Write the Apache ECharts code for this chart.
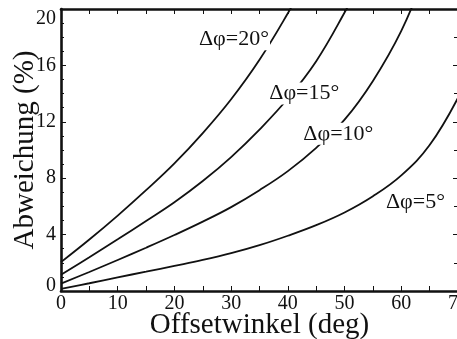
<!DOCTYPE html>
<html>
<head>
<meta charset="utf-8">
<script src="https://cdn.jsdelivr.net/npm/echarts@6/dist/echarts.min.js"></script>
<style>
  html, body { margin: 0; padding: 0; background: #fff; }
  #chart { width: 457px; height: 339px; }
</style>
</head>
<body>
<div id="chart"></div>
<script>
// Offset angle (deg) and deviation (%) for each angular spread Δφ
const angles20 = [0, 5, 10, 15, 20, 25, 30, 35, 40, 42];
const dev20    = [2.05, 3.65, 5.35, 7.15, 9.05, 11.2, 13.6, 16.4, 19.7, 21.2];

const angles15 = [0, 5, 10, 15, 20, 25, 30, 35, 40, 45, 50, 52];
const dev15    = [1.15, 2.4, 3.67, 4.97, 6.3, 7.8, 9.5, 11.45, 13.65, 16.3, 19.75, 21.35];

const angles10 = [0, 5, 10, 15, 20, 25, 30, 35, 40, 45, 50, 55, 60, 64];
const dev10    = [0.52, 1.35, 2.2, 3.07, 3.97, 4.92, 5.95, 7.15, 8.5, 10.15, 12.15, 14.9, 18.45, 22.3];

const angles5  = [0, 5, 10, 15, 20, 25, 30, 35, 40, 45, 50, 55, 60, 65, 70];
const dev5     = [0.15, 0.55, 0.97, 1.37, 1.78, 2.2, 2.68, 3.25, 3.92, 4.67, 5.57, 6.72, 8.2, 10.35, 13.7];

// Curve annotations: text and anchor in data units (offset angle, deviation)
const curveLabels = ['Δφ=20°', 'Δφ=15°', 'Δφ=10°', 'Δφ=5°'];
const labelAnchors = [[30.5, 17.85], [42.9, 14.0], [48.9, 11.15], [62.5, 6.3]];

// Axis ranges and ticks
const xMin = 0, xMax = 70, xStep = 10;
const yMin = 0, yMax = 20, yStep = 4;

const serif = "'Liberation Serif', 'Times New Roman', serif";

function pairs(xs, ys) { return xs.map((x, i) => [x, ys[i]]); }

const curveSeries = [
  pairs(angles20, dev20),
  pairs(angles15, dev15),
  pairs(angles10, dev10),
  pairs(angles5, dev5)
].map(d => ({
  type: 'line',
  data: d,
  smooth: 0.4,
  showSymbol: false,
  symbol: 'none',
  clip: true,
  lineStyle: { color: '#111', width: 1.8 },
  z: 2
}));

const labelSeries = {
  type: 'line',
  data: [],
  z: 6,
  markPoint: {
    symbol: 'circle',
    symbolSize: 0,
    silent: true,
    label: {
      show: true,
      position: 'inside',
      formatter: p => p.name,
      fontFamily: serif,
      fontSize: 22,
      color: '#111',
      backgroundColor: '#fff',
      padding: [0, 1]
    },
    data: curveLabels.map((t, i) => ({ name: t, coord: labelAnchors[i] }))
  }
};

const frameLine = { show: true, onZero: false, lineStyle: { color: '#111', width: 2.6 } };

const chart = echarts.init(document.getElementById('chart'), null, { renderer: 'canvas' });
chart.setOption({
  animation: false,
  backgroundColor: '#fff',
  grid: { left: 61, top: 9, right: -1, bottom: 48, containLabel: false, outerBoundsMode: 'none' },
  xAxis: [
    {
      type: 'value', min: xMin, max: xMax, interval: xStep, position: 'bottom',
      name: 'Offsetwinkel (deg)', nameLocation: 'middle', nameGap: 20, nameMoveOverlap: false,
      nameTextStyle: { fontFamily: serif, fontSize: 29, color: '#111' },
      axisLine: frameLine,
      axisTick: { show: true, inside: true, length: 5, lineStyle: { color: '#111', width: 1 } },
      minorTick: { show: true, splitNumber: 2, length: 5, lineStyle: { color: '#111', width: 1 } },
      axisLabel: { fontFamily: serif, fontSize: 20, color: '#111', margin: 3, hideOverlap: false },
      splitLine: { show: false }
    },
    {
      type: 'value', min: xMin, max: xMax, interval: xStep, position: 'top',
      axisLine: frameLine,
      axisTick: { show: true, inside: true, length: 5, lineStyle: { color: '#111', width: 1 } },
      minorTick: { show: true, splitNumber: 2, length: 5, lineStyle: { color: '#111', width: 1 } },
      axisLabel: { show: false },
      splitLine: { show: false }
    }
  ],
  yAxis: [
    {
      type: 'value', min: yMin, max: yMax, interval: yStep, position: 'left',
      name: 'Abweichung (%)', nameLocation: 'middle', nameGap: 21, nameMoveOverlap: false,
      nameTextStyle: { fontFamily: serif, fontSize: 29, color: '#111' },
      axisLine: frameLine,
      axisTick: { show: true, inside: true, length: 5, lineStyle: { color: '#111', width: 1 } },
      minorTick: { show: true, splitNumber: 4, length: 3, lineStyle: { color: '#111', width: 1 } },
      axisLabel: {
        fontFamily: serif, fontSize: 20, color: '#111', margin: 5,
        verticalAlignMaxLabel: 'top',
        // lift the bottom label a little off the x axis
        formatter: v => (v === yMin ? '{lo|' + v + '}' : String(v)),
        rich: { lo: { fontFamily: serif, fontSize: 20, color: '#111', padding: [0, 0, 10, 0] } }
      },
      splitLine: { show: false }
    },
    {
      type: 'value', min: yMin, max: yMax, interval: yStep, position: 'right',
      axisLine: frameLine,
      axisTick: { show: true, inside: true, length: 5, lineStyle: { color: '#111', width: 1 } },
      minorTick: { show: true, splitNumber: 2, length: 4, lineStyle: { color: '#111', width: 1 } },
      axisLabel: { show: false },
      splitLine: { show: false }
    }
  ],
  series: curveSeries.concat([labelSeries])
});
</script>
</body>
</html>
